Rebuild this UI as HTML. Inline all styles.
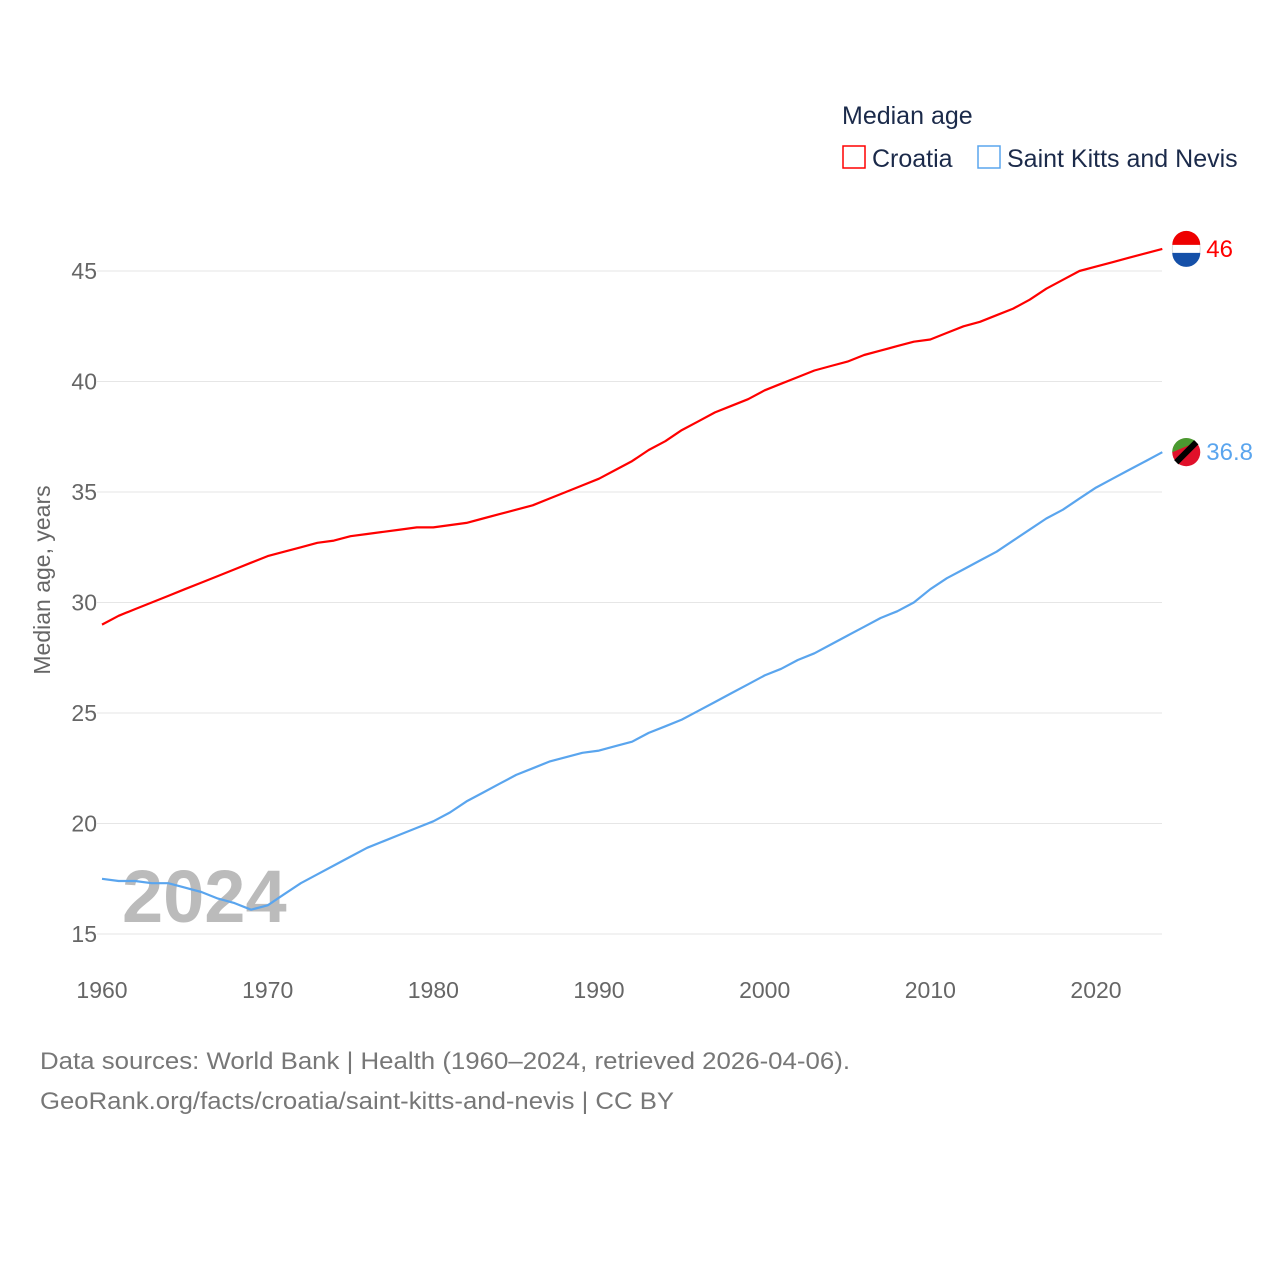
<!DOCTYPE html>
<html><head><meta charset="utf-8">
<style>
html,body{margin:0;padding:0;background:#fff;}
body{width:1280px;height:1280px;overflow:hidden;font-family:"Liberation Sans",sans-serif;}
</style></head>
<body>
<svg id="chart" width="1280" height="1280" xmlns="http://www.w3.org/2000/svg" font-family="Liberation Sans, sans-serif">
<text x="842" y="124" font-size="25" fill="#1b2a4a">Median age</text>
<g>
<rect x="843" y="146" width="22" height="22" fill="none" stroke="#f00" stroke-width="1.5"/>
<text x="872" y="167" font-size="25" fill="#1b2a4a">Croatia</text></g>
<g>
<rect x="978" y="146" width="22" height="22" fill="none" stroke="#5aa5ee" stroke-width="1.5"/>
<text x="1007" y="167" font-size="25" fill="#1b2a4a">Saint Kitts and Nevis</text></g>
<g id="grid"></g><g id="yticks"></g><g id="xticks"></g>
<text transform="translate(50,580) rotate(-90)" text-anchor="middle" font-size="23" fill="#666">Median age, years</text>
<text x="122" y="922" font-size="74" font-weight="bold" fill="#bbb">2024</text>
<g id="lines"></g>
<text x="40" y="1069" font-size="24" fill="#777" textLength="810" lengthAdjust="spacingAndGlyphs">Data sources: World Bank | Health (1960–2024, retrieved 2026-04-06).</text>
<text x="40" y="1109" font-size="24" fill="#777" textLength="634" lengthAdjust="spacingAndGlyphs">GeoRank.org/facts/croatia/saint-kitts-and-nevis | CC BY</text>
</svg>
<script>
const years=[];for(let y=1960;y<=2024;y++)years.push(y);
const croatia=[29.0,29.4,29.7,30.0,30.3,30.6,30.9,31.2,31.5,31.8,32.1,32.3,32.5,32.7,32.8,33.0,33.1,33.2,33.3,33.4,33.4,33.5,33.6,33.8,34.0,34.2,34.4,34.7,35.0,35.3,35.6,36.0,36.4,36.9,37.3,37.8,38.2,38.6,38.9,39.2,39.6,39.9,40.2,40.5,40.7,40.9,41.2,41.4,41.6,41.8,41.9,42.2,42.5,42.7,43.0,43.3,43.7,44.2,44.6,45.0,45.2,45.4,45.6,45.8,46.0];
const skn=[17.5,17.4,17.4,17.3,17.3,17.1,16.9,16.6,16.4,16.1,16.3,16.8,17.3,17.7,18.1,18.5,18.9,19.2,19.5,19.8,20.1,20.5,21.0,21.4,21.8,22.2,22.5,22.8,23.0,23.2,23.3,23.5,23.7,24.1,24.4,24.7,25.1,25.5,25.9,26.3,26.7,27.0,27.4,27.7,28.1,28.5,28.9,29.3,29.6,30.0,30.6,31.1,31.5,31.9,32.3,32.8,33.3,33.8,34.2,34.7,35.2,35.6,36.0,36.4,36.8];
const yTicks=[15,20,25,30,35,40,45];
const xTicks=[1960,1970,1980,1990,2000,2010,2020];
const NS="http://www.w3.org/2000/svg";
const X=y=>102+(y-1960)*994/60;
const Y=v=>934-(v-15)*663/30;
function mk(tag,attrs,parent,txt){const e=document.createElementNS(NS,tag);for(const k in attrs)e.setAttribute(k,attrs[k]);if(txt!==undefined)e.textContent=txt;parent.appendChild(e);return e;}
const grid=document.getElementById('grid'),yt=document.getElementById('yticks'),xt=document.getElementById('xticks'),lines=document.getElementById('lines');
yTicks.forEach(v=>{
 const l=mk('line',{x1:97,x2:1162,y1:Y(v),y2:Y(v),stroke:'#e6e6e6','stroke-width':1},grid);
 
 
 const t=mk('text',{x:97,y:Y(v)+8,'text-anchor':'end','font-size':23,fill:'#666'},yt,v);
 
 
});
xTicks.forEach(v=>{
 const t=mk('text',{x:X(v),y:998,'text-anchor':'middle','font-size':23,fill:'#666'},xt,v);
 
 
});
function series(data,color,name,label){
 const d=data.map((v,i)=>(i?'L':'M')+X(years[i]).toFixed(1)+','+Y(v).toFixed(1)).join(' ');
 const p=mk('path',{d:d,fill:'none',stroke:color,'stroke-width':2.2,'stroke-linejoin':'round'},lines);
 
 
 const last=data[data.length-1],ly=Y(last),lx=X(years[years.length-1]);
 const c=mk('circle',{cx:lx+24,cy:ly,r:14,fill:color},lines);
 
 
 const t=mk('text',{x:lx+44,y:ly+8,'font-size':24,fill:color},lines,label);
 
 
 return c;
}
const f1=series(croatia,'#f00','croatia','46');
const f2=series(skn,'#5aa5ee','saint-kitts','36.8');
f1.setAttribute('fill','#fff');f1.setAttribute('stroke','#ddd');
mk('path',{d:`M${f1.getAttribute('cx')-14},${+f1.getAttribute('cy')-4} a14,14 0 0 1 28,0 z`,fill:'#e00'},lines);
mk('path',{d:`M${f1.getAttribute('cx')-14},${+f1.getAttribute('cy')+4} a14,14 0 0 0 28,0 z`,fill:'#1550a8'},lines);
f2.setAttribute('fill','#e0102a');
mk('path',{d:`M${f2.getAttribute('cx')-14},${f2.getAttribute('cy')} a14,14 0 0 1 24,-10 z`,fill:'#4a9a30'},lines);
mk('line',{x1:+f2.getAttribute('cx')-10,y1:+f2.getAttribute('cy')+10,x2:+f2.getAttribute('cx')+10,y2:+f2.getAttribute('cy')-10,stroke:'#000','stroke-width':6},lines);
</script>
</body></html>
